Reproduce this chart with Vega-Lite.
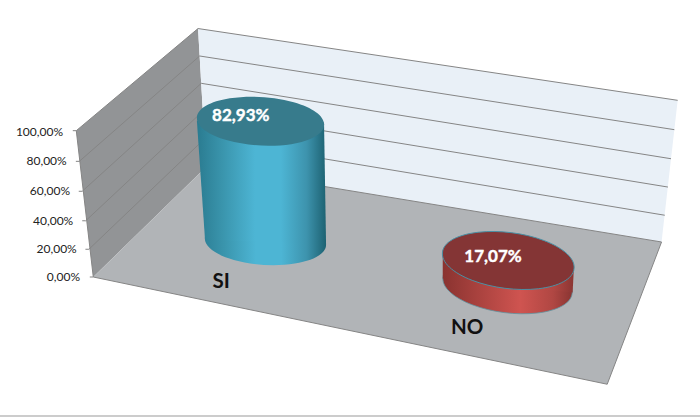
{
  "$schema": "https://vega.github.io/schema/vega-lite/v6.json",
  "width": 700,
  "height": 417,
  "padding": 0,
  "autosize": "none",
  "background": "#ffffff",
  "view": {"stroke": null},
  "datasets": {
    "panels": [
      {"panel": "left", "ord": 0, "x": 52.5, "y": 100.7},
      {"panel": "left", "ord": 1, "x": 136.3, "y": 171.0},
      {"panel": "left", "ord": 2, "x": 141.8, "y": 75.7},
      {"panel": "left", "ord": 3, "x": 64.2, "y": 0},
      {"panel": "back", "ord": 0, "x": 136.3, "y": 171.0},
      {"panel": "back", "ord": 1, "x": 466.4, "y": 121.6},
      {"panel": "back", "ord": 2, "x": 455.3, "y": 24.1},
      {"panel": "back", "ord": 3, "x": 141.8, "y": 75.7},
      {"panel": "floor", "ord": 0, "x": 64.2, "y": 0},
      {"panel": "floor", "ord": 1, "x": 141.8, "y": 75.7},
      {"panel": "floor", "ord": 2, "x": 455.3, "y": 24.1},
      {"panel": "floor", "ord": 3, "x": 417.9, "y": -73.8},
      {"panel": "si_body", "ord": 0, "x": 135.5, "y": 107.6},
      {"panel": "si_body", "ord": 1, "x": 223.0, "y": 106.4},
      {"panel": "si_body", "ord": 2, "x": 224.4, "y": 22.6},
      {"panel": "si_body", "ord": 3, "x": 141.1, "y": 25.8},
      {"panel": "no_body", "ord": 0, "x": 304.7, "y": 16.5},
      {"panel": "no_body", "ord": 1, "x": 395.0, "y": 6.9},
      {"panel": "no_body", "ord": 2, "x": 394.1, "y": -10.7},
      {"panel": "no_body", "ord": 3, "x": 304.7, "y": -1.0}
    ],
    "grid": [
      {"level": "100", "ord": 0, "x": 50.1, "y": 100.7},
      {"level": "100", "ord": 1, "x": 52.5, "y": 100.7},
      {"level": "100", "ord": 2, "x": 136.3, "y": 171.0},
      {"level": "100", "ord": 3, "x": 466.4, "y": 121.6},
      {"level": "80", "ord": 0, "x": 52.2, "y": 79.6},
      {"level": "80", "ord": 1, "x": 54.6, "y": 79.6},
      {"level": "80", "ord": 2, "x": 137.4, "y": 152.1},
      {"level": "80", "ord": 3, "x": 464.1, "y": 101.4},
      {"level": "60", "ord": 0, "x": 54.2, "y": 59.0},
      {"level": "60", "ord": 1, "x": 56.6, "y": 59.0},
      {"level": "60", "ord": 2, "x": 138.5, "y": 133.3},
      {"level": "60", "ord": 3, "x": 461.8, "y": 81.4},
      {"level": "40", "ord": 0, "x": 56.6, "y": 38.7},
      {"level": "40", "ord": 1, "x": 59.0, "y": 38.7},
      {"level": "40", "ord": 2, "x": 139.7, "y": 114.2},
      {"level": "40", "ord": 3, "x": 459.7, "y": 61.9},
      {"level": "20", "ord": 0, "x": 58.8, "y": 19.1},
      {"level": "20", "ord": 1, "x": 61.2, "y": 19.1},
      {"level": "20", "ord": 2, "x": 140.7, "y": 95.0},
      {"level": "20", "ord": 3, "x": 457.5, "y": 42.5},
      {"level": "edge", "ord": 0, "x": 52.5, "y": 100.7},
      {"level": "edge", "ord": 1, "x": 64.2, "y": 0},
      {"level": "floor", "ord": 0, "x": 61.8, "y": 0},
      {"level": "floor", "ord": 1, "x": 64.2, "y": 0},
      {"level": "floor", "ord": 2, "x": 417.9, "y": -73.8},
      {"level": "floor", "ord": 3, "x": 455.3, "y": 24.1},
      {"level": "floor", "ord": 4, "x": 141.8, "y": 75.7},
      {"level": "rule", "ord": 0, "x": 0, "y": -95.6},
      {"level": "rule", "ord": 1, "x": 481.76, "y": -95.6}
    ],
    "cylinders": [
      {"answer": "SI", "value": 82.93, "end": "base", "x": 182.7, "y": 24.27},
      {"answer": "SI", "value": 82.93, "end": "top", "x": 179.3, "y": 107.2},
      {"answer": "NO", "value": 17.07, "end": "base", "x": 349.3, "y": -5.71},
      {"answer": "NO", "value": 17.07, "end": "top", "x": 349.8, "y": 11.36}
    ],
    "axis_labels": [
      {"text": "100,00%", "x": 43.4, "y": 100},
      {"text": "80,00%", "x": 45.9, "y": 79.6},
      {"text": "60,00%", "x": 48.2, "y": 59},
      {"text": "40,00%", "x": 50.4, "y": 38.6},
      {"text": "20,00%", "x": 52.8, "y": 19.1},
      {"text": "0,00%", "x": 55.1, "y": 0}
    ],
    "categories": [
      {"text": "SI", "x": 152.2, "y": -3.2},
      {"text": "NO", "x": 321.5, "y": -34.9}
    ],
    "values": [
      {"text": "82,93%", "x": 165.7, "y": 111.0},
      {"text": "17,07%", "x": 339.3, "y": 14.0}
    ]
  },
  "encoding": {
    "x": {"field": "x", "type": "quantitative", "axis": null, "scale": {"domain": [0, 481.76], "nice": false, "zero": false}},
    "y": {"field": "y", "type": "quantitative", "axis": null, "scale": {"domain": [-96.35, 190.64], "nice": false, "zero": false}}
  },
  "layer": [
    {
      "data": {"name": "panels"},
      "transform": [{"filter": "datum.panel == 'left'"}],
      "mark": {"type": "line", "fill": "#929496", "strokeWidth": 0},
      "encoding": {"order": {"field": "ord"}}
    },
    {
      "data": {"name": "panels"},
      "transform": [{"filter": "datum.panel == 'back'"}],
      "mark": {"type": "line", "fill": "#e9f0f7", "strokeWidth": 0},
      "encoding": {"order": {"field": "ord"}}
    },
    {
      "data": {"name": "panels"},
      "transform": [{"filter": "datum.panel == 'floor'"}],
      "mark": {"type": "line", "fill": "#b1b4b7", "strokeWidth": 0},
      "encoding": {"order": {"field": "ord"}}
    },
    {
      "data": {"name": "grid"},
      "transform": [{"filter": "datum.level != 'rule'"}],
      "mark": {"type": "line", "stroke": "#858585", "strokeWidth": 1},
      "encoding": {"detail": {"field": "level"}, "order": {"field": "ord"}}
    },
    {
      "data": {"name": "grid"},
      "transform": [{"filter": "datum.level == 'rule'"}],
      "mark": {"type": "line", "stroke": "#cccccc", "strokeWidth": 2},
      "encoding": {"order": {"field": "ord"}}
    },
    {
      "data": {"name": "cylinders"},
      "transform": [{"filter": "datum.answer == 'SI' && datum.end == 'base'"}],
      "mark": {
        "type": "point", "filled": true, "opacity": 1, "size": 14738,
        "shape": "M-0.9982,-0.0593A1,0.378,3.4,1,1,0.9982,0.0593A1,0.378,3.4,1,1,-0.9982,-0.0593Z",
        "fill": {"gradient": "linear", "x1": 0, "x2": 1, "y1": 0, "y2": 0, "stops": [
          {"offset": 0, "color": "#2e8299"}, {"offset": 0.16, "color": "#3a95ad"}, {"offset": 0.42, "color": "#4db5d4"}, {"offset": 0.63, "color": "#4db5d4"}, {"offset": 0.84, "color": "#3d93ad"}, {"offset": 1, "color": "#1d6272"}
        ]}
      }
    },
    {
      "data": {"name": "panels"},
      "transform": [{"filter": "datum.panel == 'si_body'"}],
      "mark": {
        "type": "line", "strokeWidth": 0,
        "fill": {"gradient": "linear", "x1": 0, "x2": 1, "y1": 0, "y2": 0, "stops": [
          {"offset": 0, "color": "#2a7b90"}, {"offset": 0.2, "color": "#3a95ad"}, {"offset": 0.45, "color": "#4db5d4"}, {"offset": 0.65, "color": "#4db5d4"}, {"offset": 0.85, "color": "#3d93ad"}, {"offset": 1, "color": "#1d6272"}
        ]}
      },
      "encoding": {"order": {"field": "ord"}}
    },
    {
      "data": {"name": "cylinders"},
      "transform": [{"filter": "datum.answer == 'SI' && datum.end == 'top'"}],
      "mark": {
        "type": "point", "filled": true, "opacity": 1, "size": 16231, "fill": "#377b8c",
        "shape": "M-0.9982,-0.0593A1,0.378,3.4,1,1,0.9982,0.0593A1,0.378,3.4,1,1,-0.9982,-0.0593Z"
      }
    },
    {
      "data": {"name": "cylinders"},
      "transform": [{"filter": "datum.answer == 'NO' && datum.end == 'base'"}],
      "mark": {
        "type": "point", "filled": true, "opacity": 1, "size": 16952, "stroke": "#5f93a0", "strokeWidth": 0.8,
        "shape": "M-0.992,-0.126A1,0.419,7.26,1,1,0.992,0.126A1,0.419,7.26,1,1,-0.992,-0.126Z",
        "fill": {"gradient": "linear", "x1": 0, "x2": 1, "y1": 0, "y2": 0, "stops": [
          {"offset": 0, "color": "#8a3330"}, {"offset": 0.6, "color": "#cf5450"}, {"offset": 0.85, "color": "#b04743"}, {"offset": 1, "color": "#8a3532"}
        ]}
      }
    },
    {
      "data": {"name": "panels"},
      "transform": [{"filter": "datum.panel == 'no_body'"}],
      "mark": {
        "type": "line", "strokeWidth": 0,
        "fill": {"gradient": "linear", "x1": 0, "x2": 1, "y1": 0, "y2": 0, "stops": [
          {"offset": 0, "color": "#8a3330"}, {"offset": 0.6, "color": "#cf5450"}, {"offset": 0.85, "color": "#b04743"}, {"offset": 1, "color": "#8a3532"}
        ]}
      },
      "encoding": {"order": {"field": "ord"}}
    },
    {
      "data": {"name": "cylinders"},
      "transform": [{"filter": "datum.answer == 'NO' && datum.end == 'top'"}],
      "mark": {
        "type": "point", "filled": true, "opacity": 1, "size": 17582, "fill": "#843535", "stroke": "#4a90a4", "strokeWidth": 1,
        "shape": "M-0.992,-0.126A1,0.419,7.26,1,1,0.992,0.126A1,0.419,7.26,1,1,-0.992,-0.126Z"
      }
    },
    {
      "data": {"name": "axis_labels"},
      "mark": {"type": "text", "align": "right", "baseline": "middle", "font": "Lato", "fontSize": 12, "color": "#222222"},
      "encoding": {"text": {"field": "text"}}
    },
    {
      "data": {"name": "categories"},
      "mark": {"type": "text", "align": "center", "baseline": "middle", "font": "Lato", "fontWeight": "bold", "fontSize": 20.5, "color": "#111111"},
      "encoding": {"text": {"field": "text"}}
    },
    {
      "data": {"name": "values"},
      "mark": {"type": "text", "align": "center", "baseline": "middle", "font": "Lato", "fontWeight": "bold", "fontSize": 17, "color": "#ffffff", "stroke": "#ffffff", "strokeWidth": 0.4},
      "encoding": {"text": {"field": "text"}}
    }
  ]
}
